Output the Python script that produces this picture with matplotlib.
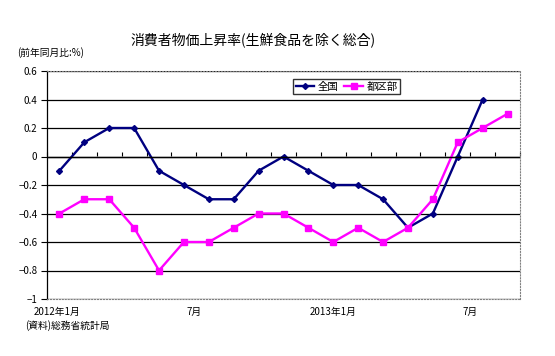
import matplotlib
matplotlib.use("Agg")
import matplotlib.pyplot as plt
import numpy as np

plt.rcParams['font.family'] = ['Noto Sans CJK JP', 'DejaVu Sans']

# 2012年1月 .. 2013年7月
months = list(range(19))
zenkoku = [-0.1, 0.1, 0.2, 0.2, -0.1, -0.2, -0.3, -0.3, -0.1, 0.0,
           -0.1, -0.2, -0.2, -0.3, -0.5, -0.4, 0.0, 0.4]
tokubu = [-0.4, -0.3, -0.3, -0.5, -0.8, -0.6, -0.6, -0.5, -0.4, -0.4,
          -0.5, -0.6, -0.5, -0.6, -0.5, -0.3, 0.1, 0.2, 0.3]
yticks = [0.6, 0.4, 0.2, 0, -0.2, -0.4, -0.6, -0.8, -1]
xlabel_pos = [-0.1, 5.4, 11.0, 16.5]
xlabels = ['2012年1月', '7月', '2013年1月', '7月']

fig = plt.figure(figsize=(5.55, 3.56), dpi=100)
ax = fig.add_axes([47/555, 1-299/356, 473/555, 228/356])

ax.plot(months[:len(zenkoku)], zenkoku, color='#000080', lw=1.7,
        marker='D', ms=3, label='全国')
ax.plot(months, tokubu, color='#FF00FF', lw=1.7,
        marker='s', ms=5, label='都区部')

ax.set_xlim(-0.5, 18.5)
ax.set_ylim(-1, 0.6)
ax.set_yticks(yticks)
ax.set_yticklabels([('%g' % v).replace('-', '−') for v in yticks], fontsize=7)
ax.tick_params(axis='y', length=4, width=0.8, pad=3)
ax.yaxis.grid(True, color='black', lw=0.9)
ax.set_axisbelow(True)

ax.set_xticks(xlabel_pos)
ax.set_xticklabels(xlabels, fontsize=7)
ax.tick_params(axis='x', length=0, pad=6)

for s in ['top', 'right', 'bottom']:
    ax.spines[s].set_color('#808080')
    ax.spines[s].set_linestyle(':')
    ax.spines[s].set_linewidth(0.8)
ax.spines['left'].set_linewidth(0.9)

# x axis crossing at zero, tick marks pointing up
ax.axhline(0, color='black', lw=1.0)
sec = ax.secondary_xaxis(1/1.6)
sec.set_xticks(np.arange(-0.5, 19, 1))
sec.xaxis.set_ticks_position('top')
sec.tick_params(axis='x', direction='out', length=3, width=0.8,
                labelbottom=False, labeltop=False)
sec.spines['bottom'].set_visible(False)
sec.spines['top'].set_visible(False)

leg = ax.legend(loc='upper left', bbox_to_anchor=(0.52, 0.965), ncol=2,
                fontsize=7.5, frameon=True, fancybox=False, handlelength=1.8,
                columnspacing=0.6, handletextpad=0.3, borderpad=0.25,
                borderaxespad=0)
leg.get_frame().set_edgecolor('black')
leg.get_frame().set_linewidth(1.0)

fig.text(253/555, 1-40/356, '消費者物価上昇率(生鮮食品を除く総合)', ha='center',
         va='center', fontsize=10)
fig.text(17/555, 1-53/356, '(前年同月比:%)', ha='left', va='center', fontsize=7)
fig.text(25/555, 1-326/356, '(資料)総務省統計局', ha='left', va='center', fontsize=7)

fig.savefig('out.png', dpi=100)
